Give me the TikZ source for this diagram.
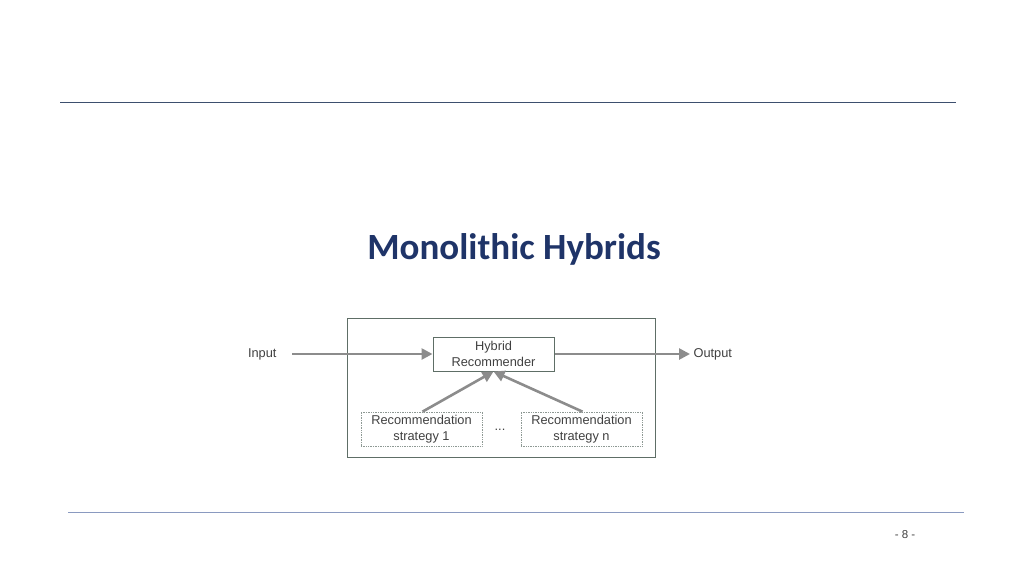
\documentclass[tikz,border=0pt]{standalone}
\usepackage{fontspec}
\setmainfont{Liberation Sans}
\newfontfamily\titlefont{Carlito}
\usetikzlibrary{arrows.meta}
\definecolor{arrowgray}{HTML}{8C8C8C}
\definecolor{boxgray}{HTML}{5E6E66}
\definecolor{titleblue}{HTML}{1F3468}
\definecolor{topline}{HTML}{3D4F6E}
\definecolor{botline}{HTML}{8A9AC0}
\definecolor{txtgray}{HTML}{404040}
\begin{document}
\begin{tikzpicture}[x=1pt,y=-1pt,
  lbl/.style={font=\fontsize{12.8}{16.5}\selectfont, text=txtgray, align=center},
  solidbox/.style={draw=boxgray, line width=1pt, minimum width=121pt, minimum height=34pt, inner sep=0pt, lbl},
  dotbox/.style={draw=boxgray!70, densely dotted, line width=0.7pt, minimum width=121pt, minimum height=34pt, inner sep=0pt, lbl},
  flow/.style={draw=arrowgray, line width=2.6pt, -{Triangle[length=11pt,width=11pt]}}]
\useasboundingbox (0,0) rectangle (1024,576);
\draw[topline, line width=1pt] (60,102) -- (956,102);
\draw[botline, line width=1pt] (68,512) -- (964,512);
\node[font=\fontsize{11.5}{12}\selectfont, text=txtgray] (pg) at (905,535) {- 8 -};
\node[font=\titlefont\bfseries\fontsize{37}{40}\selectfont, text=titleblue] (title) at (514,249) {Monolithic Hybrids};
\node[draw=boxgray, line width=1pt, minimum width=308pt, minimum height=139pt, inner sep=0pt] (outer) at (501,387.5) {};
\node[solidbox] (hyb) at (493.5,354) {Hybrid\\Recommender};
\node[dotbox] (s1) at (421.5,429) {Recommendation\\strategy 1};
\node[dotbox] (sn) at (581.5,429) {Recommendation\\strategy n};
\node[lbl] (dots) at (500,430) {...};
\node[lbl, anchor=east] (in) at (280,354) {Input};
\node[lbl, anchor=west] (out) at (690,354) {Output};
\draw[flow] (in.east) ++(12,0) -- (hyb.west);
\draw[flow] (hyb.east) -- (out.west);
\draw[flow] (s1.north) ++(1,0) -- (hyb.south);
\draw[flow] (sn.north) ++(1,0) -- (hyb.south);
\end{tikzpicture}
\end{document}
